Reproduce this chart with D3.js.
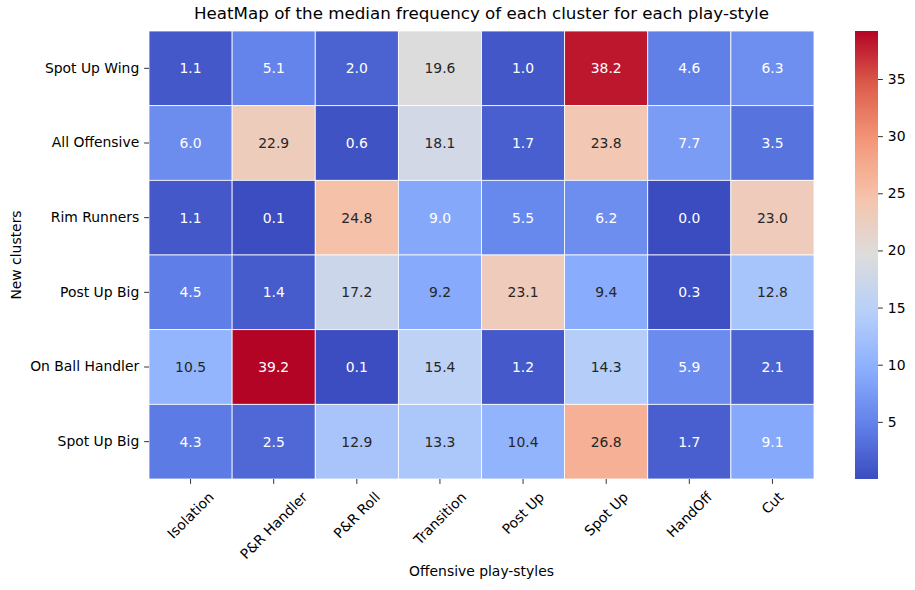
<!DOCTYPE html>
<html>
<head>
<meta charset="utf-8">
<script src="https://cdn.jsdelivr.net/npm/d3@7"></script>
<style>
  body { margin: 0; background: #fff; }
  text { font-family: "DejaVu Sans", sans-serif; fill: #000; }
</style>
</head>
<body>
<div id="container"></div>
<script>
"use strict";

const clusters = ["Spot Up Wing", "All Offensive", "Rim Runners", "Post Up Big", "On Ball Handler", "Spot Up Big"];
const playStyles = ["Isolation", "P&R Handler", "P&R Roll", "Transition", "Post Up", "Spot Up", "HandOff", "Cut"];

const spotUpWing = [1.1, 5.1, 2.0, 19.6, 1.0, 38.2, 4.6, 6.3];
const allOffensive = [6.0, 22.9, 0.6, 18.1, 1.7, 23.8, 7.7, 3.5];
const rimRunners = [1.1, 0.1, 24.8, 9.0, 5.5, 6.2, 0.0, 23.0];
const postUpBig = [4.5, 1.4, 17.2, 9.2, 23.1, 9.4, 0.3, 12.8];
const onBallHandler = [10.5, 39.2, 0.1, 15.4, 1.2, 14.3, 5.9, 2.1];
const spotUpBig = [4.3, 2.5, 12.9, 13.3, 10.4, 26.8, 1.7, 9.1];

const colorbarTicks = [5, 10, 15, 20, 25, 30, 35];

const rows = [spotUpWing, allOffensive, rimRunners, postUpBig, onBallHandler, spotUpBig];

// matplotlib "coolwarm" sampled at 9 points
const coolwarm = ["#3b4cc0", "#6282ea", "#8db0fe", "#b8d0f9", "#dddcdc",
                  "#f5c4ac", "#f49a7b", "#de604d", "#b40426"];

const plotWidth = 915;
const plotHeight = 590;
const margin = { left: 149, top: 31, right: 814, bottom: 479 };
const tickLen = 4.9;
const fontSize = 13.9;

const cells = [];
rows.forEach((row, i) => row.forEach((v, j) => cells.push({ row: clusters[i], col: playStyles[j], value: v })));

const vmin = d3.min(cells, (d) => d.value);
const vmax = d3.max(cells, (d) => d.value);

const interp = d3.piecewise(d3.interpolateRgb, coolwarm);
const color = d3.scaleSequential(interp).domain([vmin, vmax]);

function luminance(c) {
  const rgb = d3.rgb(c);
  const lin = [rgb.r, rgb.g, rgb.b].map((x) => {
    x /= 255;
    return x <= 0.03928 ? x / 12.92 : Math.pow((x + 0.055) / 1.055, 2.4);
  });
  return 0.2126 * lin[0] + 0.7152 * lin[1] + 0.0722 * lin[2];
}

const svg = d3
  .select("#container")
  .append("svg")
  .attr("width", plotWidth)
  .attr("height", plotHeight);

const xScale = d3.scaleBand().domain(playStyles).range([margin.left, margin.right]);
const yScale = d3.scaleBand().domain(clusters).range([margin.top, margin.bottom]);

svg
  .selectAll("rect.cell")
  .data(cells)
  .enter()
  .append("rect")
  .attr("class", "cell")
  .attr("x", (d) => xScale(d.col))
  .attr("y", (d) => yScale(d.row))
  .attr("width", xScale.bandwidth())
  .attr("height", yScale.bandwidth())
  .attr("fill", (d) => color(d.value))
  .attr("stroke", "#fff")
  .attr("stroke-width", 0.8);

svg
  .selectAll("text.annot")
  .data(cells)
  .enter()
  .append("text")
  .attr("class", "annot")
  .attr("x", (d) => xScale(d.col) + xScale.bandwidth() / 2)
  .attr("y", (d) => yScale(d.row) + yScale.bandwidth() / 2)
  .attr("dy", "0.36em")
  .attr("text-anchor", "middle")
  .style("font-size", fontSize + "px")
  .style("fill", (d) => (luminance(color(d.value)) > 0.408 ? "#262626" : "#ffffff"))
  .text((d) => d.value.toFixed(1));

// y axis
const yAxis = d3.axisLeft(yScale).tickSize(tickLen).tickPadding(4.9);
const yG = svg.append("g").attr("transform", `translate(${margin.left}, 0)`).call(yAxis);
yG.select(".domain").remove();
yG.selectAll("text").style("font-size", fontSize + "px").attr("fill", "#000");
yG.selectAll("line").attr("stroke", "#000").attr("stroke-width", 0.8);

// x axis
const xAxis = d3.axisBottom(xScale).tickSize(tickLen);
const xG = svg.append("g").attr("transform", `translate(0, ${margin.bottom})`).call(xAxis);
xG.select(".domain").remove();
xG.selectAll("line").attr("stroke", "#000").attr("stroke-width", 0.8);
xG.selectAll("text")
  .style("font-size", fontSize + "px")
  .attr("fill", "#000")
  .attr("y", 0)
  .attr("dy", "0.35em")
  .attr("text-anchor", "middle")
  .attr("transform", function () {
    const w = this.getComputedTextLength();
    const h = 16;
    const cy = tickLen + 4.9 + ((w + h) * Math.SQRT1_2) / 2;
    return `translate(0, ${cy}) rotate(-45)`;
  });

// axis titles
svg
  .append("text")
  .attr("x", (margin.left + margin.right) / 2)
  .attr("y", 19)
  .attr("text-anchor", "middle")
  .style("font-size", "16.7px")
  .text("HeatMap of the median frequency of each cluster for each play-style");

svg
  .append("text")
  .attr("x", (margin.left + margin.right) / 2)
  .attr("y", 576)
  .attr("text-anchor", "middle")
  .style("font-size", fontSize + "px")
  .text("Offensive play-styles");

svg
  .append("text")
  .attr("text-anchor", "middle")
  .attr("transform", `translate(21, ${(margin.top + margin.bottom) / 2}) rotate(-90)`)
  .style("font-size", fontSize + "px")
  .text("New clusters");

// colorbar
const cbX = 855;
const cbW = 23;
const cbScale = d3.scaleLinear().domain([vmin, vmax]).range([margin.bottom, margin.top]);

const grad = svg
  .append("defs")
  .append("linearGradient")
  .attr("id", "cbgrad")
  .attr("x1", 0).attr("y1", 1)
  .attr("x2", 0).attr("y2", 0);

grad
  .selectAll("stop")
  .data(d3.range(0, 1.0001, 0.02))
  .enter()
  .append("stop")
  .attr("offset", (t) => t)
  .attr("stop-color", (t) => interp(t));

svg
  .append("rect")
  .attr("x", cbX)
  .attr("y", margin.top)
  .attr("width", cbW)
  .attr("height", margin.bottom - margin.top)
  .attr("fill", "url(#cbgrad)");

const cbAxis = d3.axisRight(cbScale).tickValues(colorbarTicks).tickSize(tickLen).tickPadding(4.9);
const cbG = svg.append("g").attr("transform", `translate(${cbX + cbW}, 0)`).call(cbAxis);
cbG.select(".domain").remove();
cbG.selectAll("text").style("font-size", fontSize + "px").attr("fill", "#000");
cbG.selectAll("line").attr("stroke", "#000").attr("stroke-width", 0.8);
</script>
</body>
</html>
